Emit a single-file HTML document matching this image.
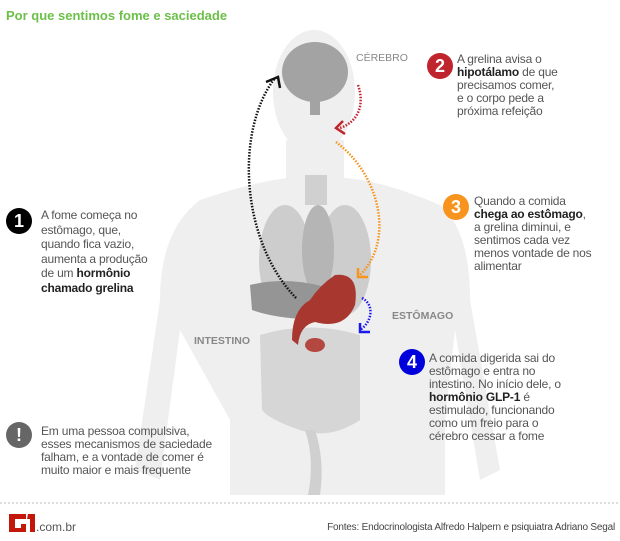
<!DOCTYPE html>
<html><head><meta charset="utf-8"><style>
body{margin:0;width:620px;height:541px;background:#fff;overflow:hidden;position:relative;font-family:"Liberation Sans",sans-serif;}
.t{position:absolute;font-size:12px;letter-spacing:-0.2px;line-height:13px;color:#555;}
.t b{color:#222;}
.c{position:absolute;width:26px;height:26px;border-radius:50%;color:#fff;font:bold 18px/26px "Liberation Sans",sans-serif;text-align:center;}
.l{position:absolute;font:bold 10.5px "Liberation Sans",sans-serif;color:#888;}
</style></head><body>
<svg width="620" height="541" style="position:absolute;left:0;top:0">
<g fill="#efefef">
<ellipse cx="314" cy="92" rx="41" ry="62"/>
<rect x="286" y="140" width="58" height="50"/>
<path d="M200,200 Q260,180 290,178 L345,178 Q380,180 440,205 Q470,230 470,300 L500,470 L480,480 L455,330 L445,420 L445,495 L230,495 L230,420 L180,330 L160,480 L135,470 L160,300 Q160,230 200,200Z"/>
</g>
<ellipse cx="315" cy="72" rx="33" ry="30" fill="#a3a3a3"/>
<rect x="310" y="95" width="10" height="20" fill="#a3a3a3"/>
<rect x="305" y="175" width="22" height="30" fill="#d0d0d0"/>
<ellipse cx="285" cy="260" rx="26" ry="55" fill="#cdcdcd"/>
<ellipse cx="345" cy="260" rx="26" ry="55" fill="#cdcdcd"/>
<ellipse cx="318" cy="250" rx="16" ry="45" fill="#b5b5b5"/>
<path d="M250,285 Q290,275 335,290 L330,320 Q280,320 252,310Z" fill="#959595"/>
<path d="M260,335 Q310,320 360,335 L360,420 Q330,440 300,430 Q270,420 262,410Z" fill="#d6d6d6"/>
<path d="M305,430 Q315,460 308,495 L320,495 Q325,460 315,430Z" fill="#d0d0d0"/>
<path d="M335,275 Q360,272 355,305 Q345,330 315,322 Q300,325 298,345 L292,340 Q292,310 310,300 Q320,285 335,275Z" fill="#a8372f"/>
<ellipse cx="315" cy="345" rx="10" ry="7" fill="#b4473f"/>
<g fill="none" stroke-width="2.5" stroke-dasharray="1.5 1.5">
<path d="M296,298 C240,240 235,130 275,78" stroke="#111"/>
<path d="M358,85 C365,105 358,122 340,128" stroke="#c0242c"/>
<path d="M336,142 C380,175 395,240 360,275" stroke="#f7941d"/>
<path d="M362,298 C375,305 372,322 360,330" stroke="#1a1aee"/>
</g>
<g fill="none" stroke-width="2.5">
<path d="M266,82 L278,77 L280,88" stroke="#111"/>
<path d="M343,121 L336,128 L345,134" stroke="#c0242c"/>
<path d="M358,268 L358,277 L368,277" stroke="#f7941d"/>
<path d="M360,323 L360,332 L370,332" stroke="#1a1aee"/>
</g>
<line x1="0" y1="503" x2="620" y2="503" stroke="#bbb" stroke-dasharray="2 2"/>
<path d="M9,514 L26,514 L26,519 L15,519 L15,528 L21,528 L21,524 L26,524 L26,532 L9,532Z" fill="#c4170c"/>
<path d="M28,514 L35,514 L35,532 L30,532 L30,519 L27,519Z" fill="#c4170c"/>
</svg>
<div style="position:absolute;left:6px;top:8px;font:bold 13px 'Liberation Sans',sans-serif;color:#6cc04a">Por que sentimos fome e saciedade</div>
<div class="l" style="left:356px;top:52px;font-weight:normal">CÉREBRO</div>
<div class="l" style="left:392px;top:310px">ESTÔMAGO</div>
<div class="l" style="left:194px;top:335px">INTESTINO</div>
<div class="c" style="left:6px;top:208px;background:#000">1</div>
<div class="t" style="left:41px;top:208px;line-height:14.5px">A fome começa no<br>estômago, que,<br>quando fica vazio,<br>aumenta a produção<br>de um <b>hormônio<br>chamado grelina</b></div>
<div class="c" style="left:427px;top:53px;background:#c0242c">2</div>
<div class="t" style="left:457px;top:53px">A grelina avisa o<br><b>hipotálamo</b> de que<br>precisamos comer,<br>e o corpo pede a<br>próxima refeição</div>
<div class="c" style="left:443px;top:194px;background:#f7941d">3</div>
<div class="t" style="left:474px;top:195px">Quando a comida<br><b>chega ao estômago</b>,<br>a grelina diminui, e<br>sentimos cada vez<br>menos vontade de nos<br>alimentar</div>
<div class="c" style="left:399px;top:349px;background:#0000dd">4</div>
<div class="t" style="left:429px;top:352px">A comida digerida sai do<br>estômago e entra no<br>intestino. No início dele, o<br><b>hormônio GLP-1</b> é<br>estimulado, funcionando<br>como um freio para o<br>cérebro cessar a fome</div>
<div class="c" style="left:6px;top:422px;background:#666">!</div>
<div class="t" style="left:41px;top:425px">Em uma pessoa compulsiva,<br>esses mecanismos de saciedade<br>falham, e a vontade de comer é<br>muito maior e mais frequente</div>
<div style="position:absolute;left:36px;top:520px;font-size:12px;color:#555">.com.br</div>
<div style="position:absolute;right:5px;top:522px;font-size:10px;letter-spacing:-0.2px;color:#444">Fontes: Endocrinologista Alfredo Halpern e psiquiatra Adriano Segal</div>
</body></html>
